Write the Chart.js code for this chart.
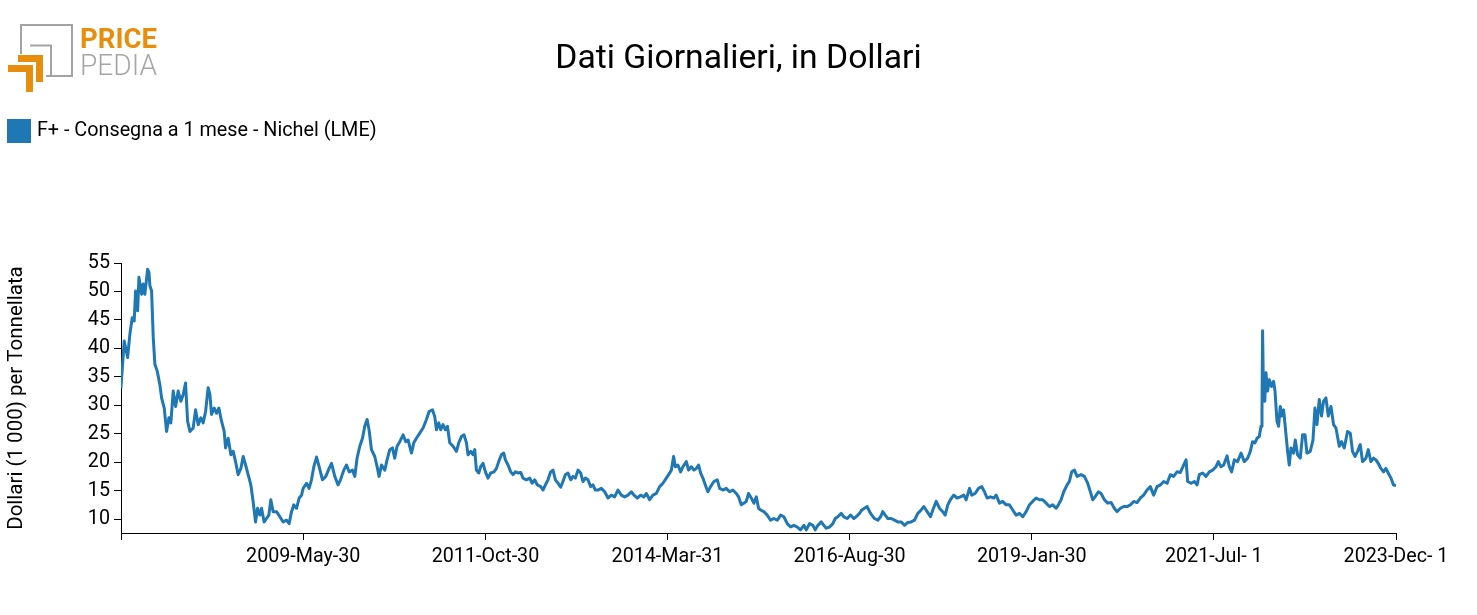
<!DOCTYPE html>
<html><head><meta charset="utf-8">
<script src="https://cdn.jsdelivr.net/npm/chart.js@4.4.1/dist/chart.umd.min.js"></script>
<style>html,body{margin:0;padding:0;background:#fff;}canvas{display:block;}</style>
</head><body>
<canvas id="c" width="1477" height="615"></canvas>
<script>
const seriesName = 'F+ - Consegna a 1 mese - Nichel (LME)';
const chartTitle = 'Dati Giornalieri, in Dollari';
const yAxisTitle = 'Dollari (1 000) per Tonnellata';
const tickDates = ['2006-12-28','2009-05-30','2011-10-30','2014-03-31','2016-08-30','2019-01-30','2021-07-01','2023-12-01'];
const tickLabels = ['','2009-May-30','2011-Oct-30','2014-Mar-31','2016-Aug-30','2019-Jan-30','2021-Jul- 1','2023-Dec- 1'];
const yTicks = [10,15,20,25,30,35,40,45,50,55];
const yMin = 7.55, yMax = 55;

const years = [
2006.988,2007.032,2007.077,2007.107,2007.138,2007.164,2007.183,2007.210,2007.227,2007.263,
2007.284,2007.306,2007.342,2007.360,2007.373,2007.395,2007.417,2007.439,2007.470,2007.505,
2007.528,2007.563,2007.594,2007.625,2007.651,2007.682,2007.714,2007.748,2007.784,2007.815,
2007.846,2007.873,2007.904,2007.947,2007.979,2008.014,2008.049,2008.080,2008.112,2008.146,
2008.169,2008.191,2008.226,2008.258,2008.288,2008.324,2008.359,2008.377,2008.412,2008.448,
2008.478,2008.510,2008.544,2008.580,2008.611,2008.643,2008.677,2008.713,2008.743,2008.775,
2008.802,2008.832,2008.855,2008.889,2008.921,2008.952,2008.978,2009.009,2009.054,2009.098,
2009.141,2009.187,2009.221,2009.253,2009.283,2009.319,2009.354,2009.386,2009.407,2009.452,
2009.486,2009.518,2009.549,2009.585,2009.619,2009.664,2009.708,2009.752,2009.784,2009.827,
2009.871,2009.903,2009.947,2009.983,2010.017,2010.062,2010.093,2010.123,2010.159,2010.195,
2010.225,2010.256,2010.282,2010.314,2010.358,2010.389,2010.415,2010.447,2010.491,2010.521,
2010.557,2010.593,2010.623,2010.654,2010.690,2010.734,2010.769,2010.800,2010.845,2010.876,
2010.911,2010.955,2010.999,2011.044,2011.079,2011.124,2011.154,2011.177,2011.207,2011.234,
2011.264,2011.296,2011.323,2011.353,2011.397,2011.442,2011.473,2011.508,2011.543,2011.575,
2011.596,2011.632,2011.662,2011.685,2011.707,2011.738,2011.764,2011.795,2011.827,2011.861,
2011.897,2011.941,2011.973,2012.003,2012.039,2012.070,2012.092,2012.127,2012.163,2012.193,
2012.225,2012.259,2012.295,2012.326,2012.371,2012.415,2012.445,2012.481,2012.517,2012.561,
2012.591,2012.623,2012.657,2012.693,2012.724,2012.756,2012.790,2012.826,2012.856,2012.888,
2012.923,2012.959,2012.989,2013.021,2013.056,2013.091,2013.122,2013.154,2013.188,2013.224,
2013.255,2013.286,2013.321,2013.366,2013.410,2013.454,2013.499,2013.542,2013.586,2013.631,
2013.675,2013.719,2013.764,2013.799,2013.844,2013.887,2013.931,2013.963,2014.007,2014.051,
2014.096,2014.140,2014.183,2014.228,2014.259,2014.295,2014.325,2014.348,2014.382,2014.418,
2014.449,2014.494,2014.524,2014.560,2014.595,2014.626,2014.657,2014.683,2014.714,2014.746,
2014.780,2014.816,2014.860,2014.905,2014.936,2014.979,2015.024,2015.068,2015.112,2015.157,
2015.188,2015.223,2015.258,2015.290,2015.320,2015.356,2015.391,2015.423,2015.453,2015.480,
2015.523,2015.568,2015.612,2015.656,2015.701,2015.745,2015.789,2015.834,2015.878,2015.921,
2015.967,2016.010,2016.054,2016.086,2016.130,2016.173,2016.205,2016.240,2016.285,2016.319,
2016.351,2016.395,2016.439,2016.471,2016.505,2016.550,2016.585,2016.630,2016.674,2016.717,
2016.749,2016.793,2016.824,2016.859,2016.895,2016.926,2016.956,2016.992,2017.036,2017.072,
2017.102,2017.134,2017.169,2017.214,2017.257,2017.301,2017.346,2017.390,2017.434,2017.479,
2017.523,2017.567,2017.612,2017.646,2017.691,2017.735,2017.766,2017.811,2017.855,2017.898,
2017.930,2017.965,2018.000,2018.044,2018.089,2018.133,2018.177,2018.209,2018.253,2018.283,
2018.328,2018.372,2018.416,2018.452,2018.487,2018.531,2018.575,2018.607,2018.651,2018.694,
2018.740,2018.783,2018.827,2018.872,2018.916,2018.960,2019.005,2019.049,2019.092,2019.138,
2019.181,2019.225,2019.270,2019.314,2019.358,2019.403,2019.433,2019.469,2019.504,2019.549,
2019.579,2019.610,2019.646,2019.682,2019.735,2019.778,2019.822,2019.858,2019.889,2019.920,
2019.964,2020.000,2020.044,2020.088,2020.133,2020.176,2020.212,2020.256,2020.300,2020.345,
2020.389,2020.433,2020.478,2020.521,2020.565,2020.610,2020.654,2020.698,2020.743,2020.787,
2020.831,2020.876,2020.919,2020.963,2021.008,2021.052,2021.096,2021.128,2021.149,2021.194,
2021.238,2021.274,2021.304,2021.348,2021.393,2021.437,2021.481,2021.526,2021.556,2021.592,
2021.627,2021.672,2021.702,2021.733,2021.769,2021.812,2021.858,2021.901,2021.945,2021.981,
2022.011,2022.043,2022.070,2022.100,2022.123,2022.136,2022.144,2022.157,2022.173,2022.189,
2022.210,2022.233,2022.263,2022.290,2022.309,2022.335,2022.356,2022.379,2022.396,2022.423,
2022.455,2022.476,2022.498,2022.521,2022.555,2022.578,2022.608,2022.644,2022.675,2022.707,
2022.733,2022.777,2022.813,2022.839,2022.866,2022.896,2022.927,2022.953,2022.985,2023.016,
2023.052,2023.086,2023.118,2023.162,2023.192,2023.228,2023.272,2023.308,2023.338,2023.370,
2023.405,2023.440,2023.471,2023.516,2023.547,2023.582,2023.617,2023.649,2023.679,2023.715,
2023.750,2023.781,2023.812,2023.848,2023.882,2023.915
];

const values = [
33.0,41.3,38.4,42.5,45.4,44.8,50.1,46.6,52.5,49.5,
51.3,49.5,53.9,53.4,51.0,50.1,41.9,37.2,36.0,33.6,
31.3,29.5,25.4,27.8,26.9,32.5,29.8,32.5,30.7,31.9,
33.9,27.2,25.4,26.0,29.2,26.6,27.8,26.9,28.9,33.1,
31.9,28.4,29.5,28.6,29.5,27.2,25.4,22.5,24.2,21.3,
21.9,20.1,17.8,18.9,21.0,19.5,17.8,16.0,13.1,9.5,
11.9,10.7,11.9,9.5,10.1,10.7,13.4,11.3,11.3,10.4,
9.5,9.8,9.2,11.3,12.5,11.9,13.7,14.2,15.4,16.3,
15.4,16.9,19.2,20.9,19.2,16.9,17.5,18.9,19.8,17.5,
16.0,16.9,18.6,19.5,18.3,18.6,17.5,20.7,22.8,24.2,
26.3,27.5,25.7,22.2,21.0,19.2,17.5,19.5,18.6,20.4,
22.2,22.5,20.7,22.8,23.6,24.8,23.6,23.9,21.6,23.4,
24.2,25.1,26.0,27.5,28.9,29.2,28.0,25.7,26.9,25.7,
26.6,25.7,26.3,23.4,22.8,21.9,23.4,24.5,24.8,23.4,
21.3,21.9,21.3,22.2,18.6,18.1,19.2,19.8,18.3,17.2,
18.1,18.3,18.9,20.1,21.3,21.6,20.4,19.5,18.3,17.8,
18.3,18.1,18.2,17.2,16.9,17.2,16.3,16.9,16.0,15.7,
15.1,16.0,16.9,18.3,18.6,16.9,16.3,15.6,16.6,17.8,
18.1,16.9,17.5,17.2,18.6,18.1,16.6,17.2,16.9,15.7,
16.0,15.1,15.1,15.4,14.8,13.7,14.2,13.9,15.1,14.2,
13.9,14.2,14.8,14.2,13.7,14.2,13.9,14.5,13.4,14.2,
14.5,15.7,16.3,17.2,17.8,18.6,21.0,19.2,19.5,18.3,
19.2,20.1,18.6,19.2,18.6,18.9,19.5,18.1,17.2,16.0,
14.8,15.7,16.6,16.9,15.4,15.1,15.4,14.8,15.1,14.5,
13.9,12.5,12.8,13.1,14.5,13.7,12.8,13.9,11.9,11.6,
11.3,10.7,9.8,10.1,9.8,10.7,10.4,9.2,8.6,8.9,
8.6,8.1,8.9,8.1,9.2,8.9,8.1,8.9,9.5,8.9,
8.4,8.6,9.2,10.1,10.4,11.0,10.4,10.1,10.7,10.1,
10.4,11.0,11.6,11.9,12.2,11.3,10.7,10.1,9.8,10.4,
11.3,10.7,10.1,10.1,9.8,9.5,9.5,8.9,9.4,9.5,
9.8,11.0,11.6,12.2,11.3,10.4,11.6,13.1,11.9,11.3,
10.7,12.5,13.4,14.2,13.7,13.9,14.2,13.4,15.4,14.2,
14.5,15.4,15.7,14.8,13.7,13.9,13.7,14.2,12.8,13.1,
12.5,12.5,11.6,10.7,11.0,10.4,11.3,12.5,13.1,13.7,
13.4,13.4,12.8,12.2,12.5,11.9,12.5,13.4,14.8,16.0,
16.6,18.3,18.6,17.5,17.8,17.5,16.3,14.8,13.4,13.9,
14.8,14.5,13.4,12.8,12.9,11.9,11.3,11.9,12.2,12.2,
12.5,13.1,12.9,13.7,14.2,15.1,15.7,14.2,15.7,16.0,
16.6,16.3,17.8,17.5,18.3,18.2,19.5,20.4,16.6,16.3,
16.6,16.0,17.8,18.1,17.5,18.3,18.6,19.2,20.1,19.2,
19.5,21.1,19.2,18.3,20.4,20.1,21.6,20.1,20.7,21.9,
23.6,23.4,24.2,24.5,26.3,29.0,43.1,31.0,30.7,35.7,
32.5,34.5,33.3,34.2,32.5,27.2,26.3,29.8,28.1,29.2,
24.8,21.9,19.5,22.5,21.6,23.9,21.3,20.7,24.8,24.8,
21.6,21.9,23.9,29.5,26.6,31.0,28.1,30.7,31.3,28.1,
29.8,26.6,26.0,22.8,23.6,22.5,25.4,25.1,21.9,21.0,
21.9,23.1,20.1,20.7,22.2,20.1,20.7,20.4,19.8,18.9,
18.3,18.9,18.1,17.2,16.0,15.9
];

function decYear(s) {
  const p = s.split('-').map(Number);
  const a = Date.UTC(p[0], 0, 1), b = Date.UTC(p[0] + 1, 0, 1);
  return p[0] + (Date.UTC(p[0], p[1] - 1, p[2]) - a) / (b - a);
}
const tickVals = tickDates.map(decYear);

const BLUE = '#1f77b4';
const ORANGE = '#e88e0c';
const FONT = 'Roboto, "Liberation Sans", sans-serif';

const logoPlugin = {
  id: 'logo',
  afterDraw(chart) {
    const ctx = chart.ctx;
    ctx.save();
    ctx.lineCap = 'butt'; ctx.lineJoin = 'miter';
    ctx.strokeStyle = '#a3a3a3'; ctx.lineWidth = 2;
    ctx.beginPath(); ctx.moveTo(21, 54); ctx.lineTo(21, 25); ctx.lineTo(72, 25); ctx.lineTo(72, 76); ctx.lineTo(46, 76); ctx.stroke();
    ctx.beginPath(); ctx.moveTo(30, 45.5); ctx.lineTo(51, 45.5); ctx.lineTo(51, 76); ctx.stroke();
    ctx.fillStyle = ORANGE;
    ctx.fillRect(18, 55, 25, 7); ctx.fillRect(36, 55, 7, 27);
    ctx.fillRect(8, 65, 25, 7); ctx.fillRect(26, 65, 7, 27);
    ctx.textBaseline = 'alphabetic'; ctx.textAlign = 'left';
    ctx.font = 'bold 28px ' + FONT;
    ctx.fillText('PRICE', 80, 48, 77);
    ctx.fillStyle = '#a6a6a6';
    ctx.font = '300 30px ' + FONT;
    ctx.fillText('PEDIA', 80, 75, 77);
    ctx.restore();
  }
};

new Chart(document.getElementById('c'), {
  type: 'line',
  data: {
    datasets: [{
      label: seriesName,
      data: years.map((x, i) => ({ x: x, y: values[i] })),
      borderColor: BLUE,
      backgroundColor: BLUE,
      borderWidth: 3,
      borderJoinStyle: 'round',
      pointRadius: 0,
      pointHoverRadius: 0,
      tension: 0,
      fill: false
    }]
  },
  options: {
    responsive: false,
    animation: false,
    devicePixelRatio: 1,
    layout: { padding: 0 },
    plugins: {
      title: {
        display: true, text: chartTitle, color: '#000',
        font: { family: FONT, size: 33.7, weight: 'normal' },
        padding: { top: 39.5, bottom: 30.2 }
      },
      legend: {
        display: true, position: 'top', align: 'start',
        labels: {
          boxWidth: 16, boxHeight: 16, padding: 11, color: '#000',
          font: { family: FONT, size: 19.8 },
          generateLabels(chart) {
            const items = Chart.defaults.plugins.legend.labels.generateLabels(chart);
            items.forEach(it => { it.lineWidth = 8; it.fillStyle = BLUE; it.strokeStyle = BLUE; it.lineJoin = 'miter'; });
            return items;
          }
        }
      },
      subtitle: {
        display: true, text: '', weight: 500,
        font: { size: 10 }, padding: { top: 100.1, bottom: 0 }
      },
      tooltip: { enabled: false }
    },
    scales: {
      x: {
        type: 'linear',
        min: tickVals[0],
        max: tickVals[tickVals.length - 1],
        afterBuildTicks: s => { s.ticks = tickVals.map(v => ({ value: v })); },
        afterFit: s => { s.height = 82; },
        ticks: {
          autoSkip: false, maxRotation: 0, minRotation: 0, color: '#000', padding: 5,
          font: { family: FONT, size: 19.7 },
          callback: (v, i) => tickLabels[i]
        },
        grid: { display: true, drawOnChartArea: false, drawTicks: true, tickLength: 7, color: '#000', lineWidth: 1 },
        border: { display: true, color: '#000', width: 1 }
      },
      y: {
        type: 'linear',
        min: yMin, max: yMax,
        afterBuildTicks: s => { s.ticks = yTicks.map(v => ({ value: v })); },
        afterFit: s => { s.width = 121; },
        ticks: {
          color: '#000', padding: 4,
          font: { family: FONT, size: 19.7 },
          callback: v => String(v)
        },
        grid: { display: true, drawOnChartArea: false, drawTicks: true, tickLength: 7, color: '#000', lineWidth: 1 },
        border: { display: true, color: '#000', width: 1 },
        title: {
          display: true, text: yAxisTitle, color: '#000',
          font: { family: FONT, size: 20.5 },
          padding: { top: 5, bottom: 0 }
        }
      },
      rightSpace: {
        type: 'linear', position: 'right', display: true,
        min: yMin, max: yMax,
        ticks: { display: false },
        grid: { display: false, drawTicks: false },
        border: { display: false },
        afterFit: s => { s.width = 81; }
      }
    }
  },
  plugins: [logoPlugin]
});
</script>
</body></html>
